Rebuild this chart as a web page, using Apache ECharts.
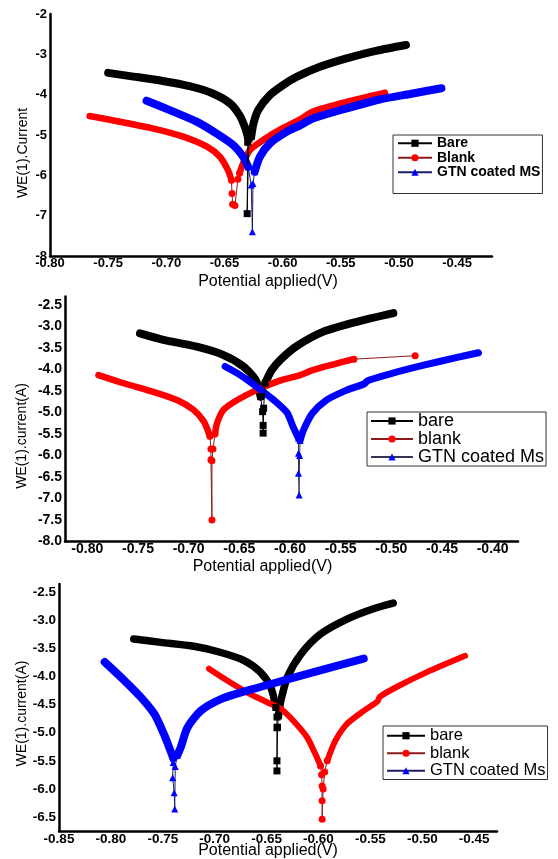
<!DOCTYPE html>
<html>
<head>
<meta charset="utf-8">
<script src="https://cdn.jsdelivr.net/npm/echarts@6/dist/echarts.min.js"></script>
<style>
  html, body { margin: 0; padding: 0; background: #fff; }
  .panel { position: absolute; left: 0; width: 558px; }
</style>
</head>
<body>
<div class="panel" id="p1" style="top:0;height:290px"></div>
<div class="panel" id="p2" style="top:290px;height:292px"></div>
<div class="panel" id="p3" style="top:570px;height:289px"></div>
<script>
// ---- panel 1 data (potential V, log current) ----
var xTicks1 = [-0.80, -0.75, -0.70, -0.65, -0.60, -0.55, -0.50, -0.45];
var yTicks1 = [-8, -7, -6, -5, -4, -3, -2];
var bare1Cath = [[-0.750,-3.46],[-0.731,-3.54],[-0.703,-3.66],[-0.680,-3.79],[-0.660,-3.97],[-0.645,-4.22],[-0.637,-4.51],[-0.6325,-4.80],[-0.630,-5.04]];
var bare1Dip = [[-0.630,-5.04],[-0.630,-5.18],[-0.6305,-6.95],[-0.629,-5.10],[-0.627,-5.04]];
var bare1Anod = [[-0.627,-5.04],[-0.625,-4.71],[-0.621,-4.38],[-0.611,-4.01],[-0.599,-3.75],[-0.588,-3.56],[-0.568,-3.31],[-0.545,-3.10],[-0.519,-2.91],[-0.494,-2.77]];
var blank1Cath = [[-0.766,-4.53],[-0.740,-4.67],[-0.711,-4.84],[-0.6855,-5.04],[-0.665,-5.29],[-0.654,-5.54],[-0.647,-5.87],[-0.644,-6.12]];
var blank1Dip = [[-0.644,-6.12],[-0.6435,-6.45],[-0.643,-6.72],[-0.641,-6.75],[-0.6385,-6.10],[-0.637,-5.95]];
var blank1Anod = [[-0.637,-5.95],[-0.634,-5.70],[-0.628,-5.37],[-0.617,-5.13],[-0.602,-4.86],[-0.585,-4.61],[-0.574,-4.42],[-0.545,-4.18],[-0.512,-3.95]];
var gtn1Cath = [[-0.717,-4.15],[-0.694,-4.42],[-0.674,-4.67],[-0.657,-4.96],[-0.6425,-5.25],[-0.634,-5.54],[-0.6296,-5.79]];
var gtn1Dip = [[-0.6296,-5.79],[-0.627,-6.24],[-0.626,-7.40],[-0.6255,-6.20],[-0.624,-5.91]];
var gtn1Anod = [[-0.624,-5.91],[-0.6196,-5.54],[-0.611,-5.21],[-0.597,-4.93],[-0.585,-4.76],[-0.574,-4.59],[-0.545,-4.34],[-0.5165,-4.12],[-0.488,-3.97],[-0.4635,-3.84]];

// ---- panel 2 data ----
var xTicks2 = [-0.80, -0.75, -0.70, -0.65, -0.60, -0.55, -0.50, -0.45, -0.40];
var yTicks2 = [-8.0, -7.5, -7.0, -6.5, -6.0, -5.5, -5.0, -4.5, -4.0, -3.5, -3.0, -2.5];
var bare2Cath = [[-0.748,-3.16],[-0.725,-3.31],[-0.692,-3.47],[-0.666,-3.66],[-0.646,-3.93],[-0.634,-4.24],[-0.629,-4.63]];
var bare2Dip = [[-0.629,-4.63],[-0.627,-4.98],[-0.6265,-5.30],[-0.6265,-5.48],[-0.626,-4.90],[-0.6245,-4.32]];
var bare2Anod = [[-0.6245,-4.32],[-0.618,-4.01],[-0.608,-3.74],[-0.593,-3.45],[-0.567,-3.12],[-0.534,-2.89],[-0.498,-2.69]];
var blank2Cath = [[-0.789,-4.13],[-0.764,-4.32],[-0.735,-4.52],[-0.7115,-4.71],[-0.695,-4.94],[-0.685,-5.21],[-0.679,-5.55]];
var blank2Dip = [[-0.679,-5.55],[-0.678,-5.85],[-0.678,-6.10],[-0.677,-7.50],[-0.677,-6.12],[-0.676,-5.85],[-0.674,-5.50]];
var blank2Anod = [[-0.674,-5.50],[-0.672,-5.25],[-0.6656,-4.94],[-0.652,-4.71],[-0.633,-4.48],[-0.610,-4.26],[-0.590,-4.13],[-0.577,-4.01],[-0.537,-3.76]];
var blank2End = [[-0.537,-3.76],[-0.4765,-3.68]];
var gtn2Cath = [[-0.664,-3.93],[-0.649,-4.13],[-0.633,-4.40],[-0.616,-4.71],[-0.603,-5.00],[-0.597,-5.33],[-0.5916,-5.60]];
var gtn2Dip = [[-0.5916,-5.60],[-0.5916,-5.95],[-0.5916,-6.41],[-0.591,-6.92],[-0.5905,-6.00],[-0.590,-5.65]];
var gtn2Anod = [[-0.590,-5.65],[-0.5867,-5.41],[-0.578,-5.02],[-0.564,-4.71],[-0.544,-4.48],[-0.5265,-4.33],[-0.5235,-4.26],[-0.501,-4.10],[-0.468,-3.90],[-0.435,-3.72],[-0.414,-3.61]];

// ---- panel 3 data ----
var xTicks3 = [-0.85, -0.80, -0.75, -0.70, -0.65, -0.60, -0.55, -0.50, -0.45];
var yTicks3 = [-6.5, -6.0, -5.5, -5.0, -4.5, -4.0, -3.5, -3.0, -2.5];
var bare3Cath = [[-0.778,-3.33],[-0.752,-3.39],[-0.720,-3.46],[-0.694,-3.57],[-0.672,-3.71],[-0.656,-3.92],[-0.646,-4.19],[-0.641,-4.55]];
var bare3Dip = [[-0.641,-4.55],[-0.640,-4.72],[-0.640,-4.91],[-0.640,-5.50],[-0.640,-5.68],[-0.6395,-4.90],[-0.6385,-4.70]];
var bare3Anod = [[-0.6385,-4.70],[-0.6365,-4.45],[-0.630,-4.01],[-0.617,-3.60],[-0.598,-3.24],[-0.572,-2.97],[-0.547,-2.79],[-0.528,-2.69]];
var blank3Cath = [[-0.7055,-3.86],[-0.688,-4.07],[-0.669,-4.28],[-0.649,-4.46],[-0.6365,-4.57],[-0.624,-4.79],[-0.611,-5.08],[-0.603,-5.38],[-0.598,-5.59]];
var blank3Dip = [[-0.598,-5.59],[-0.597,-5.75],[-0.5965,-5.95],[-0.5965,-6.21],[-0.5965,-6.54],[-0.5955,-6.00],[-0.594,-5.70],[-0.5916,-5.50]];
var blank3Anod = [[-0.5916,-5.50],[-0.5837,-5.14],[-0.5724,-4.84],[-0.5564,-4.61],[-0.543,-4.44],[-0.541,-4.36],[-0.5243,-4.18],[-0.4955,-3.92],[-0.4587,-3.63]];
var gtn3Cath = [[-0.806,-3.74],[-0.787,-4.07],[-0.771,-4.37],[-0.758,-4.67],[-0.749,-5.02],[-0.743,-5.30],[-0.740,-5.45]];
var gtn3Dip = [[-0.740,-5.45],[-0.740,-5.53],[-0.7405,-5.80],[-0.739,-6.07],[-0.7385,-6.36],[-0.738,-5.60],[-0.736,-5.40]];
var gtn3Anod = [[-0.736,-5.40],[-0.7327,-5.26],[-0.7263,-4.91],[-0.7135,-4.61],[-0.694,-4.40],[-0.6686,-4.25],[-0.6397,-4.10],[-0.6045,-3.92],[-0.5564,-3.68]];

var FONT = "'Liberation Sans', Arial, sans-serif";
var BLACK = '#000000', RED = '#ff0000', BLUE = '#0000ff';

// one curve = thin line with markers (dip / sparse part) + two thick bands of dense markers
function curve(name, color, edge, symbol, width, cath, dip, anod) {
  return [
    { name: name, type: 'line', data: dip, symbol: symbol, symbolSize: 7, showAllSymbol: true,
      lineStyle: { color: edge, width: 1 }, itemStyle: { color: color }, z: 4 },
    { name: name, type: 'line', data: cath, showSymbol: false, smooth: 0.25,
      lineStyle: { color: color, width: width, cap: 'round', join: 'round' }, z: 3 },
    { name: name, type: 'line', data: anod, showSymbol: false, smooth: 0.25,
      lineStyle: { color: color, width: width, cap: 'round', join: 'round' }, z: 3 }
  ];
}

function axes(p) {
  return {
    xAxis: {
      type: 'value', min: p.xmin, max: p.xmax,
      name: 'Potential applied(V)', nameLocation: 'middle', nameGap: p.xGap, nameMoveOverlap: false,
      nameTextStyle: { fontFamily: FONT, fontSize: 16, color: '#000', padding: p.xPad },
      axisLine: { onZero: false, lineStyle: { color: '#000', width: 2.5 } },
      axisTick: { show: false }, splitLine: { show: false },
      axisLabel: { customValues: p.xTicks, margin: 1, fontFamily: FONT, fontWeight: 'bold',
        fontSize: p.fs, color: '#000', formatter: function (v) { return v.toFixed(2); } }
    },
    yAxis: {
      type: 'value', min: p.ymin, max: p.ymax,
      name: p.yName, nameLocation: 'middle', nameGap: p.yGap, nameMoveOverlap: false,
      nameTextStyle: { fontFamily: FONT, fontSize: 14, color: '#000', padding: p.yPad },
      axisLine: { onZero: false, lineStyle: { color: '#000', width: 2.5 } },
      axisTick: { show: false }, splitLine: { show: false },
      axisLabel: { customValues: p.yTicks, margin: 3, fontFamily: FONT, fontWeight: 'bold',
        fontSize: p.fs, color: '#000', formatter: function (v) { return v.toFixed(p.yDec); } }
    }
  };
}

function legend(l, names) {
  return {
    orient: 'vertical', left: l.left, top: l.top, padding: l.pad, itemGap: 0,
    itemWidth: l.iw, itemHeight: 9, selectedMode: false,
    borderColor: '#333', borderWidth: 1, backgroundColor: '#fff',
    textStyle: { fontFamily: FONT, fontSize: l.fs, fontWeight: l.fw, lineHeight: l.lh, color: '#000' },
    data: names
  };
}

// panel 1
var a1 = axes({ xmin: -0.80, xmax: -0.42, xTicks: xTicks1, ymin: -8, ymax: -2, yTicks: yTicks1, yDec: 0,
  fs: 13, xGap: 18, xPad: [0, 6, 0, 0], yName: 'WE(1).Current', yGap: 20, yPad: [0, 36, 0, 0] });
var chart1 = echarts.init(document.getElementById('p1'));
chart1.setOption({
  animation: false,
  grid: { left: 50, top: 14, width: 442, height: 242, outerBoundsMode: 'none', containLabel: false },
  xAxis: a1.xAxis, yAxis: a1.yAxis,
  legend: legend({ left: 393, top: 135, pad: [1, 2, 14, 4], iw: 34, fs: 14, fw: 'bold', lh: 14.5 },
    ['Bare', 'Blank', 'GTN coated MS']),
  series: [].concat(
    curve('Bare', BLACK, '#000', 'rect', 8, bare1Cath, bare1Dip, bare1Anod),
    curve('Blank', RED, '#8b1a1a', 'circle', 6.5, blank1Cath, blank1Dip, blank1Anod),
    curve('GTN coated MS', BLUE, '#1c1c6b', 'triangle', 8, gtn1Cath, gtn1Dip, gtn1Anod)
  )
});

// panel 2
var a2 = axes({ xmin: -0.822, xmax: -0.375, xTicks: xTicks2, ymin: -8, ymax: -2.3, yTicks: yTicks2, yDec: 1,
  fs: 14, xGap: 17, xPad: [0, 58, 0, 0], yName: 'WE(1).current(A)', yGap: 36, yPad: [0, 34, 0, 0] });
var chart2 = echarts.init(document.getElementById('p2'));
var blank2Series = curve('blank', RED, '#8b1a1a', 'circle', 6.5, blank2Cath, blank2Dip, blank2Anod);
blank2Series.push({ name: 'blank', type: 'line', data: blank2End, symbol: 'circle', symbolSize: 7,
  lineStyle: { color: '#8b1a1a', width: 1 }, itemStyle: { color: RED }, z: 2 });
chart2.setOption({
  animation: false,
  grid: { left: 65, top: 6.4, width: 453, height: 245.1, outerBoundsMode: 'none', containLabel: false },
  xAxis: a2.xAxis, yAxis: a2.yAxis,
  legend: legend({ left: 367, top: 122, pad: [0, 2, 0, 3], iw: 42, fs: 18, fw: 'normal', lh: 17 },
    ['bare', 'blank', 'GTN coated Ms']),
  series: [].concat(
    curve('bare', BLACK, '#000', 'rect', 8, bare2Cath, bare2Dip, bare2Anod),
    blank2Series,
    curve('GTN coated Ms', BLUE, '#333355', 'triangle', 7, gtn2Cath, gtn2Dip, gtn2Anod)
  )
});

// panel 3
var a3 = axes({ xmin: -0.85, xmax: -0.428, xTicks: xTicks3, ymin: -6.75, ymax: -2.35, yTicks: yTicks3, yDec: 1,
  fs: 13.5, xGap: 12, xPad: [0, 20, 0, 0], yName: 'WE(1).current(A)', yGap: 30, yPad: [0, 12, 0, 0] });
var chart3 = echarts.init(document.getElementById('p3'));
chart3.setOption({
  animation: false,
  grid: { left: 59, top: 14, width: 438, height: 247, outerBoundsMode: 'none', containLabel: false },
  xAxis: a3.xAxis, yAxis: a3.yAxis,
  legend: legend({ left: 383, top: 156, pad: [1, 2, 0, 3], iw: 38, fs: 16.5, fw: 'normal', lh: 17.5 },
    ['bare', 'blank', 'GTN coated Ms']),
  series: [].concat(
    curve('bare', BLACK, '#000', 'rect', 7.5, bare3Cath, bare3Dip, bare3Anod),
    curve('blank', RED, '#8b1a1a', 'circle', 6, blank3Cath, blank3Dip, blank3Anod),
    curve('GTN coated Ms', BLUE, '#1c1c6b', 'triangle', 8, gtn3Cath, gtn3Dip, gtn3Anod)
  )
});
</script>
</body>
</html>
